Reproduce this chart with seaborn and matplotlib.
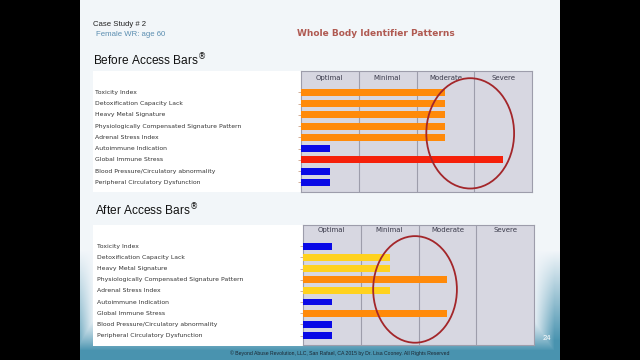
import matplotlib
matplotlib.use('Agg')
import matplotlib.pyplot as plt
import seaborn as sns
import numpy as np
from matplotlib.patches import Ellipse, Rectangle
from matplotlib.transforms import blended_transform_factory

indicadores = ['Toxicity Index', 'Detoxification Capacity Lack', 'Heavy Metal Signature',
               'Physiologically Compensated Signature Pattern', 'Adrenal Stress Index',
               'Autoimmune Indication', 'Global Immune Stress',
               'Blood Pressure/Circulatory abnormality', 'Peripheral Circulatory Dysfunction']
niveis = ['Optimal', 'Minimal', 'Moderate', 'Severe']
valores_antes = [2.5, 2.5, 2.5, 2.5, 2.5, 0.5, 3.5, 0.5, 0.5]
valores_depois = [0.5, 1.5, 1.5, 2.5, 1.5, 0.5, 2.5, 0.5, 0.5]

# cor de cada faixa (optimal, minimal, moderate, severe)
cores_faixa = ['#0a0ae6', '#ffd21e', '#ff8a0a', '#f5200a']

sns.set_style('white')
fig = plt.figure(figsize=(6.4, 3.6), dpi=100)
fig.patch.set_facecolor('black')

# fundo do slide (gradiente branco -> azul petróleo)
bg = fig.add_axes([80 / 640, 0, 480 / 640, 1])
bg.set_zorder(-1)
ny, nx = 360, 480
py, px = np.mgrid[0:ny, 0:nx]
w = np.clip((py - 315) / 35, 0, 1) ** 1.3
w = np.maximum(w, np.clip((px - 452) / 22, 0, 1) * np.clip((py - 250) / 90, 0, 1))
w = np.maximum(w, np.clip((14 - px) / 14, 0, 1) * np.clip((py - 250) / 100, 0, 1) * 0.8)
branco = np.array([0.95, 0.965, 0.98])
azul = np.array([0.29, 0.58, 0.69])
img = branco[None, None, :] * (1 - w[..., None]) + azul[None, None, :] * w[..., None]
bg.imshow(img, aspect='auto', extent=(0, nx, ny, 0))
bg.set_axis_off()

# painéis brancos atrás dos rótulos
for (x0, y0, x1, y1) in [(93, 71, 301, 192), (93, 225, 303, 346)]:
    bg.add_patch(Rectangle((x0 - 80, y0), x1 - x0, y1 - y0, fc='white', ec='none', zorder=2))


def painel(ax, valores, x_rot, y_cab, elipse):
    paleta = [cores_faixa[int(v)] for v in valores]
    sns.barplot(x=valores, y=indicadores, hue=indicadores, palette=paleta, legend=False,
                orient='h', width=0.62, saturation=1, linewidth=0, ax=ax)
    for p in ax.patches:
        p.set_zorder(3)
    ax.set_facecolor('#d7d7e1')
    ax.set_xlim(0, 4)
    ax.set_ylim(8.85, -1.9)
    for i in range(1, 4):
        ax.axvline(i, color='#9d9dab', lw=0.8, zorder=0.5)
    for i, n in enumerate(niveis):
        ax.text(i + 0.5, y_cab, n, ha='center', va='center', fontsize=5,
                color='#3c3c4c', family='DejaVu Sans')
    ax.set_xticks([])
    ax.set_yticks(range(len(indicadores)))
    ax.set_yticklabels([])
    ax.tick_params(axis='y', left=True, length=2, width=0.5, color='#c09070')
    ax.set_xlabel('')
    ax.set_ylabel('')
    for s in ax.spines.values():
        s.set_color('#9d9dab')
        s.set_linewidth(0.8)
    trans = blended_transform_factory(fig.transFigure, ax.transData)
    for i, nome in enumerate(indicadores):
        ax.text(x_rot / 640, i, nome, transform=trans, ha='left', va='center',
                fontsize=4.4, color='#333333', family='DejaVu Sans')
    cx, cy, ew, eh = elipse
    ax.add_patch(Ellipse((cx, cy), ew, eh, fill=False, ec='#a3262a', lw=1.3, clip_on=False, zorder=5))


ax1 = fig.add_axes([301 / 640, 1 - 192 / 360, 231 / 640, 121 / 360])
painel(ax1, valores_antes, 95, -1.3, (2.93, 3.64, 1.52, 9.8))

ax2 = fig.add_axes([303 / 640, 1 - 345 / 360, 231 / 640, 120 / 360])
painel(ax2, valores_depois, 97, -1.45, (1.94, 3.87, 1.45, 9.55))

# textos do slide
fig.text(93 / 640, 1 - 25 / 360, 'Case Study # 2', fontsize=5.6, color='#222222',
         family='Liberation Sans', va='center')
fig.text(96 / 640, 1 - 35 / 360, 'Female WR: age 60', fontsize=5.6, color='#5a8db0',
         family='Liberation Sans', va='center')
fig.text(297 / 640, 1 - 34 / 360, 'Whole Body Identifier Patterns', fontsize=6.5,
         fontweight='bold', color='#b05a52', family='DejaVu Sans', va='center')
fig.text(93 / 640, 1 - 60 / 360, 'Before Access Bars$^{\u00ae}$', fontsize=8.6, color='#111111',
         family='Liberation Sans', va='center')
fig.text(95 / 640, 1 - 210 / 360, 'After Access Bars$^{\u00ae}$', fontsize=8.6, color='#111111',
         family='Liberation Sans', va='center')
fig.text(340 / 640, 1 - 353 / 360,
         '\u00a9 Beyond Abuse Revolution, LLC, San Rafael, CA 2015 by Dr. Lisa Cooney. All Rights Reserved',
         fontsize=3.7, color='#1a2530', family='Liberation Sans', ha='center', va='center')
fig.text(547 / 640, 1 - 339 / 360, '24', fontsize=5.5, color='white',
         family='Liberation Sans', ha='center', va='center')

plt.savefig('out.png', dpi=100, facecolor=fig.get_facecolor())
